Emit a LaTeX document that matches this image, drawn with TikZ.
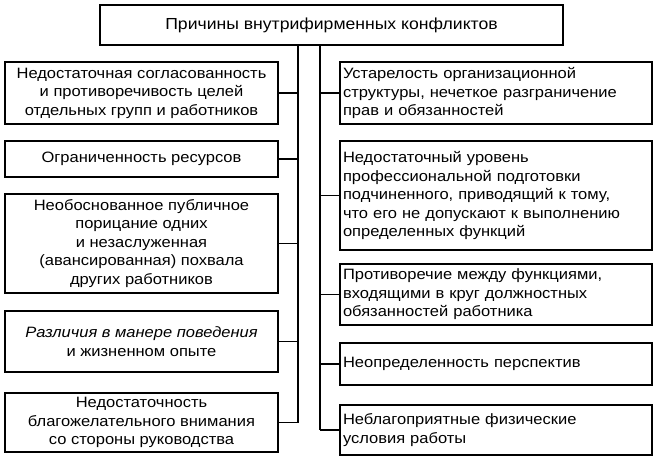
\documentclass[tikz,border=0pt]{standalone}
\usepackage{fontspec}
\setmainfont{Liberation Sans}[FakeStretch=1.1]
\begin{document}
\begin{tikzpicture}[x=1pt,y=-1pt,line width=1.6pt,
  bx/.style={draw,inner sep=0pt,font=\fontsize{15}{18.5}\selectfont},
  lb/.style={bx,align=center},
  rb/.style={bx,align=left}]
\useasboundingbox (0,0) rectangle (661,464);
\node[bx,minimum width=463pt,minimum height=40pt,font=\fontsize{16}{18.5}\selectfont] (top) at (331.5,25) {Причины внутрифирменных конфликтов};
\def\L#1#2#3#4{\node[lb,minimum width=273pt,minimum height=#3pt] (#1) at (141.5,#2) {#4};}
\def\R#1#2#3#4{\node[rb,minimum width=312pt,minimum height=#3pt,text width=306pt,inner xsep=3pt] (#1) at (496,#2) {#4};}
\L{l1}{93}{62}{Недостаточная согласованность\\и противоречивость целей\\отдельных групп и работников}
\L{l2}{159}{36}{Ограниченность ресурсов}
\L{l3}{243.5}{99}{Необоснованное публичное\\порицание одних\\и незаслуженная\\(авансированная) похвала\\других работников}
\L{l4}{341.5}{61}{\itshape Различия в манере поведения\\и жизненном опыте}
\L{l5}{422.5}{59}{Недостаточность\\благожелательного внимания\\со стороны руководства}
\R{r1}{93}{62}{Устарелость организационной\\структуры, нечеткое разграничение\\прав и обязанностей}
\R{r2}{195.5}{109}{Недостаточный уровень\\профессиональной подготовки\\подчиненного, приводящий к тому,\\что его не допускают к выполнению\\определенных функций}
\R{r3}{294.5}{61}{Противоречие между функциями,\\входящими в круг должностных\\обязанностей работника}
\R{r4}{364}{42}{Неопределенность перспектив}
\R{r5}{430}{50}{Неблагоприятные физические\\условия работы}
\coordinate (sl) at (298,0); \coordinate (sr) at (320,0);
\draw (top.south -| sl) -- (l5.east -| sl);
\draw (top.south -| sr) -- (r5.west -| sr);
\foreach \n in {l1,l2,l3,l4,l5} \draw (\n.east) -- (\n.east -| sl);
\foreach \n in {r1,r2,r3,r4,r5} \draw (\n.west) -- (\n.west -| sr);
\end{tikzpicture}
\end{document}
